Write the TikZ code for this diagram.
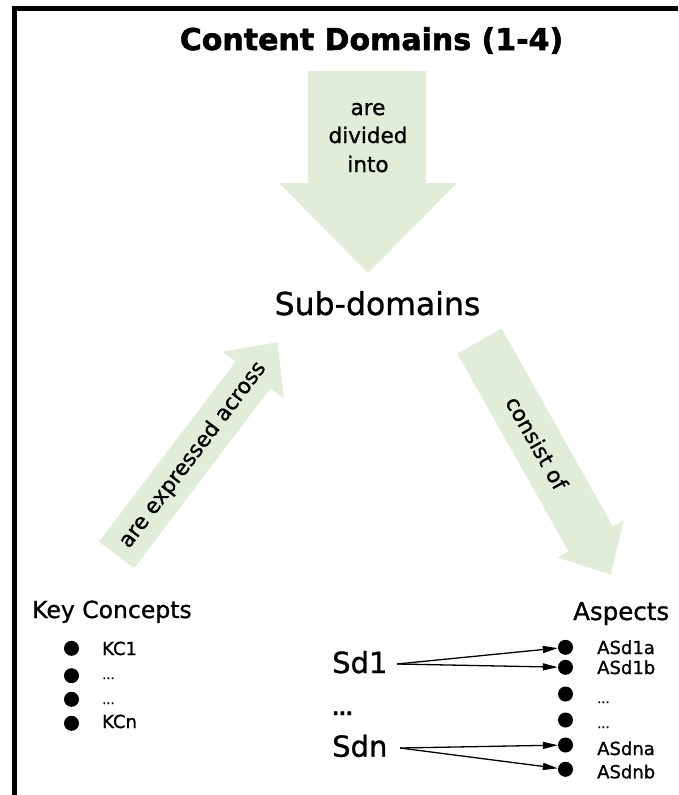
\documentclass[tikz,border=0pt]{standalone}
\usepackage{fontspec}
\setmainfont{DejaVu Sans}[FakeBold=1.0, BoldFeatures={FakeBold=1.8}]
\usetikzlibrary{arrows.meta}
\definecolor{arrowgreen}{RGB}{226,237,217}
\begin{document}
\begin{tikzpicture}[x=1pt,y=-1pt,
  bigarrow/.style={fill=arrowgreen, draw=none},
  lbl/.style={font=\fontsize{21.5}{26}\selectfont, inner sep=0pt},
  dot/.style={circle, fill=black, inner sep=0pt, minimum size=15pt},
  item/.style={font=\fontsize{18}{20}\selectfont, anchor=base west, inner sep=0pt},
  head/.style={font=\fontsize{23.5}{28}\selectfont, anchor=base west, inner sep=0pt},
  sd/.style={font=\fontsize{29}{32}\selectfont, anchor=base west, inner sep=0pt},
  link/.style={line width=1.3pt, -{Triangle[length=15pt,width=7pt]}}
]
\useasboundingbox (0,0) rectangle (678,795);
% frame
\fill (12,6) rectangle (678,11);
\fill (12,6) rectangle (17,795);

% title
\node[font=\bfseries\fontsize{30}{34}\selectfont, anchor=base, inner sep=0pt] (title) at (371.5,50) {Content Domains (1-4)};

% big arrows
\path[bigarrow] (308,71) -- (426,71) -- (426,183) -- (457,183) -- (368,273) -- (279,183) -- (308,183) -- cycle;
\path[bigarrow] (99,541.7) -- (235.5,361.6) -- (222.3,351.6) -- (277.8,342.2) -- (283.7,398.2) -- (270.5,388.2) -- (134,568.3) -- cycle;
\path[bigarrow] (457.3,353.5) -- (501.7,328.5) -- (612.9,526.4) -- (623.8,520.3) -- (610.8,574.7) -- (557.6,557.5) -- (568.5,551.4) -- cycle;

\node[lbl, anchor=base] (d1) at (368,115) {are};
\node[lbl, anchor=base] (d2) at (368,143) {divided};
\node[lbl, anchor=base] (d3) at (368,172) {into};
\node[lbl, rotate=52.8] (lexp) at (193,455) {are expressed across};
\node[lbl, rotate=-60.7] (rcons) at (537,443) {consist of};

% sub-domains
\node[font=\fontsize{31.5}{34}\selectfont, anchor=base, inner sep=0pt] (sub) at (377.5,315) {Sub-domains};

% key concepts
\node[head] (kc) at (32,618) {Key Concepts};
\node[dot] (k1) at (71.5,648.3) {};
\node[dot] (k2) at (71.5,675.7) {};
\node[dot] (k3) at (71.5,699.3) {};
\node[dot] (k4) at (71.5,723.3) {};
\node[item] (kt1) at (102,655) {KC1};
\node[item, font=\fontsize{13}{15}\selectfont] (kt2) at (102,679) {...};
\node[item, font=\fontsize{13}{15}\selectfont] (kt3) at (102,704) {...};
\node[item] (kt4) at (102,728) {KCn};

% aspects
\node[head, font=\fontsize{24.5}{28}\selectfont] (asp) at (573,620) {Aspects};
\node[dot] (b1) at (565.5,647.3) {};
\node[dot] (b2) at (565.5,667.3) {};
\node[dot] (b3) at (565.5,694) {};
\node[dot] (b4) at (565.5,720) {};
\node[dot] (b5) at (565.5,745) {};
\node[dot] (b6) at (565.5,769.3) {};
\node[item] (at1) at (597,654) {ASd1a};
\node[item] (at2) at (597,674) {ASd1b};
\node[item, font=\fontsize{13}{15}\selectfont] (at3) at (597,703) {...};
\node[item, font=\fontsize{13}{15}\selectfont] (at4) at (597,728) {...};
\node[item] (at5) at (597,755) {ASdna};
\node[item] (at6) at (597,778.3) {ASdnb};

% sub-domain list
\node[sd] (sd1) at (332,673) {Sd1};
\node[sd, font=\fontsize{18}{20}\selectfont\bfseries] (sdd) at (332,715) {...};
\node[sd] (sdn) at (332,756.7) {Sdn};
\coordinate (s1) at (397,664);
\coordinate (sn) at (400,748);
\draw[link] (s1) -- (b1);
\draw[link] (s1) -- (b2);
\draw[link] (sn) -- (b5);
\draw[link] (sn) -- (b6);
\end{tikzpicture}
\end{document}
